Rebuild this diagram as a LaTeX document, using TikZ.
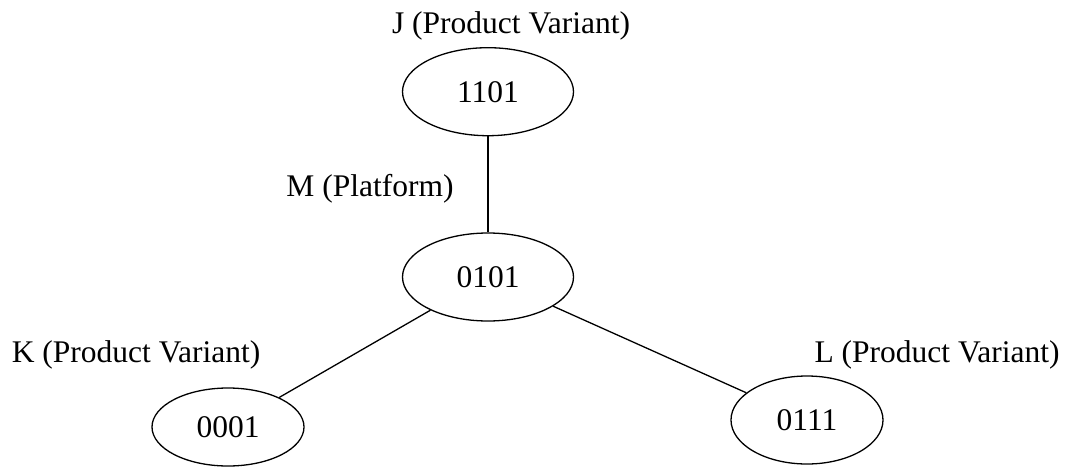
\documentclass[tikz,border=0pt]{standalone}
\usepackage{fontspec}
\setmainfont{Liberation Serif}
\usetikzlibrary{shapes}
\usetikzlibrary{positioning}
\tikzset{%
	% Specifications for style of nodes:
	variant/.style = {ellipse, draw=black, line width=1.3pt, inner sep=0pt,
		minimum width=152pt, minimum height=78pt},
	platform/.style = {variant, minimum width=171pt, minimum height=88pt},
	caption/.style = {anchor=base, inner sep=0pt}
}

\begin{document}
\begin{tikzpicture}[x=1pt, y=-1pt, every node/.style={font=\fontsize{31.5pt}{37pt}\selectfont}, line width=1.3pt]
		\useasboundingbox (0,0) rectangle (1068,466);
		\node (platformM) [platform] at (488,277) {0101};
		\node (variantJ) [platform, above=96pt of platformM] {1101};
		\node (variantK) [variant] at (228,427) {0001};
		\node (variantL) [variant, minimum height=88pt] at (807,420) {0111};
		\node (textJ) [caption] at (511,33) {J (Product Variant)};
		\node (textM) [caption] at (370,196) {M (Platform)};
		\node (textK) [caption] at (136,362) {K (Product Variant)};
		\node (textL) [caption] at (937,362) {L (Product Variant)};
		\draw (variantJ) -- (platformM);
		\draw (platformM) -- (variantK);
		\draw (platformM) -- (variantL);
	\end{tikzpicture}
\end{document}
